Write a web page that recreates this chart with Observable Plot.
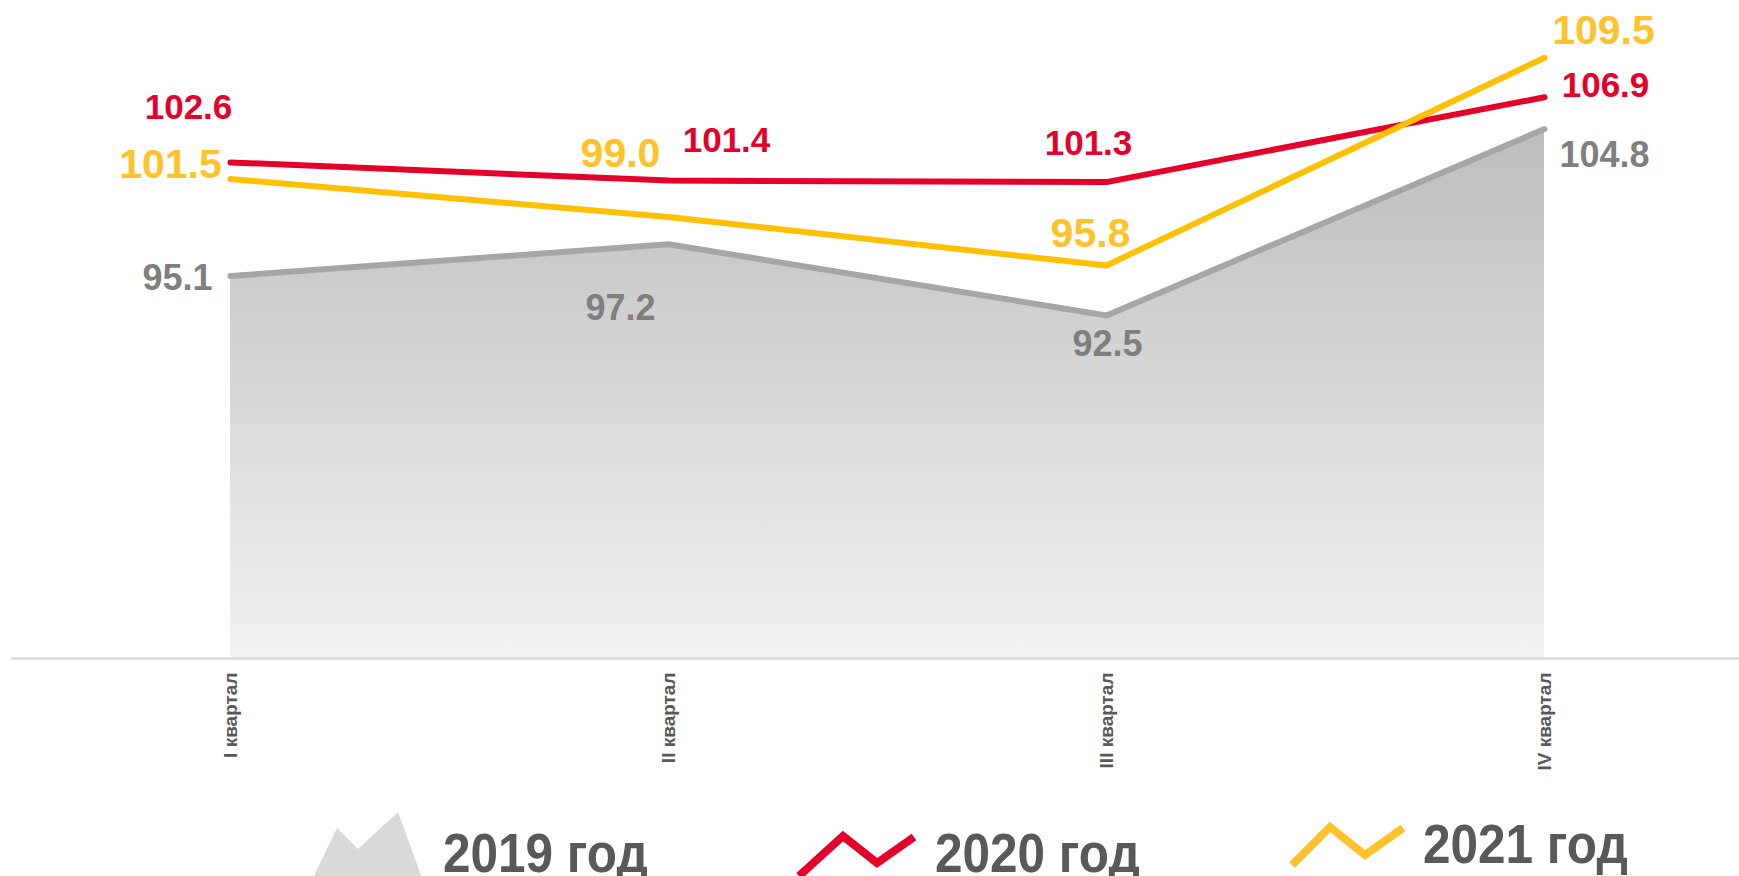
<!DOCTYPE html>
<html><head><meta charset="utf-8">
<script src="https://cdn.jsdelivr.net/npm/d3@7"></script>
<script src="https://cdn.jsdelivr.net/npm/@observablehq/plot@0.6"></script>
<style>
body{margin:0;background:#fff;overflow:hidden;}
#chart{width:1739px;height:876px;position:relative;}
#legend{position:absolute;left:0;top:800px;}
</style>
</head><body><div id="chart"></div>
<script>
// ---- data ----
const quarters = ["I квартал", "II квартал", "III квартал", "IV квартал"];
const seriesNames = ["2019 год", "2020 год", "2021 год"];
const values2019 = [95.1, 97.2, 92.5, 104.8];
const values2020 = [102.6, 101.4, 101.3, 106.9];
const values2021 = [101.5, 99.0, 95.8, 109.5];

// ---- styles / layout ----
const allValues = [values2019, values2020, values2021];
const lineColors = ["#a6a6a6", "#e4002b", "#ffc000"];
const labelColors = ["#7f7f7f", "#e4002b", "#ffc22a"];
const legendColors = ["#d9d9d9", "#e4002b", "#ffc22a"];
const labelSizes = [36, 35, 41];
const labelOffsets = [
  [[-53, 14], [-48, 76], [1, 41], [60, 38]],
  [[-42, -43], [58, -29], [-18, -27], [61, 0]],
  [[-60, -1], [-48, -50], [-16, -18], [59, -14]]
];
const yMin = 69.87, yMax = 113.28;
const fmt = d3.format(".1f");

const rows = seriesNames.map((s, j) => quarters.map((q, i) => ({quarter: q, series: s, value: allValues[j][i]})));

const gradientDefs = () => {
  const defs = d3.create("svg:defs");
  const g = defs.append("linearGradient").attr("id", "area2019")
    .attr("x1", 0).attr("y1", 0).attr("x2", 0).attr("y2", 1);
  g.append("stop").attr("offset", "0%").attr("stop-color", "#bdbdbd");
  g.append("stop").attr("offset", "100%").attr("stop-color", "#f2f2f2");
  return defs.node();
};

const labelMarks = [];
rows.forEach((data, j) => {
  data.forEach((d, i) => {
    labelMarks.push(Plot.text([d], {
      x: "quarter", y: "value", text: v => fmt(v.value),
      dx: labelOffsets[j][i][0], dy: labelOffsets[j][i][1],
      textAnchor: "middle", lineAnchor: "bottom",
      fill: labelColors[j], fontSize: labelSizes[j], fontWeight: "bold"
    }));
  });
});

const chart = Plot.plot({
  width: 1739,
  height: 800,
  marginLeft: 11,
  marginRight: 0,
  marginTop: 0,
  marginBottom: 142,
  style: {fontFamily: "'Liberation Sans', Arial, sans-serif", background: "#fff", overflow: "visible"},
  x: {type: "point", domain: quarters, padding: 0.4726, align: 0.529, round: false, axis: null, label: null},
  y: {domain: [yMin, yMax], axis: null},
  marks: [
    gradientDefs,
    Plot.areaY(rows[0], {x: "quarter", y1: yMin, y2: "value", fill: "url(#area2019)"}),
    Plot.ruleY([yMin], {stroke: "#d9d9d9", strokeWidth: 2.5}),
    ...rows.map((data, j) => Plot.line(data, {
      x: "quarter", y: "value", stroke: lineColors[j], strokeWidth: 6,
      strokeLinecap: "round", strokeLinejoin: "round"
    })),
    ...labelMarks,
    Plot.axisX({tickRotate: -90, tickSize: 0, tickPadding: 14, fontSize: 19, fontWeight: "bold", fill: "#595959", label: null})
  ]
});
document.getElementById("chart").appendChild(chart);

// ---- legend (below the chart SVG) ----
const legend = d3.select("#chart").append("svg").attr("id", "legend")
  .attr("width", 1739).attr("height", 76)
  .style("font-family", "'Liberation Sans', Arial, sans-serif");
const legendItems = [
  {icon: "area", points: [[313, 78], [337, 28], [358, 49], [398, 12], [422, 78]], textX: 443, baseline: 72},
  {icon: "line", points: [[799, 76], [843, 36], [877, 63], [914, 37]], textX: 935, baseline: 72},
  {icon: "line", points: [[1292, 65], [1330, 27], [1365, 55], [1403, 28]], textX: 1423, baseline: 63}
];
legendItems.forEach((it, j) => {
  if (it.icon === "area") {
    legend.append("polygon").attr("points", it.points.map(p => p.join(",")).join(" "))
      .attr("fill", legendColors[j]);
  } else {
    legend.append("polyline").attr("points", it.points.map(p => p.join(",")).join(" "))
      .attr("fill", "none").attr("stroke", legendColors[j]).attr("stroke-width", 8);
  }
  legend.append("text")
    .attr("transform", `translate(${it.textX},${it.baseline}) scale(0.9,1)`)
    .attr("font-size", 55).attr("font-weight", "bold").attr("fill", "#595959")
    .text(seriesNames[j]);
});
</script>
</body></html>
